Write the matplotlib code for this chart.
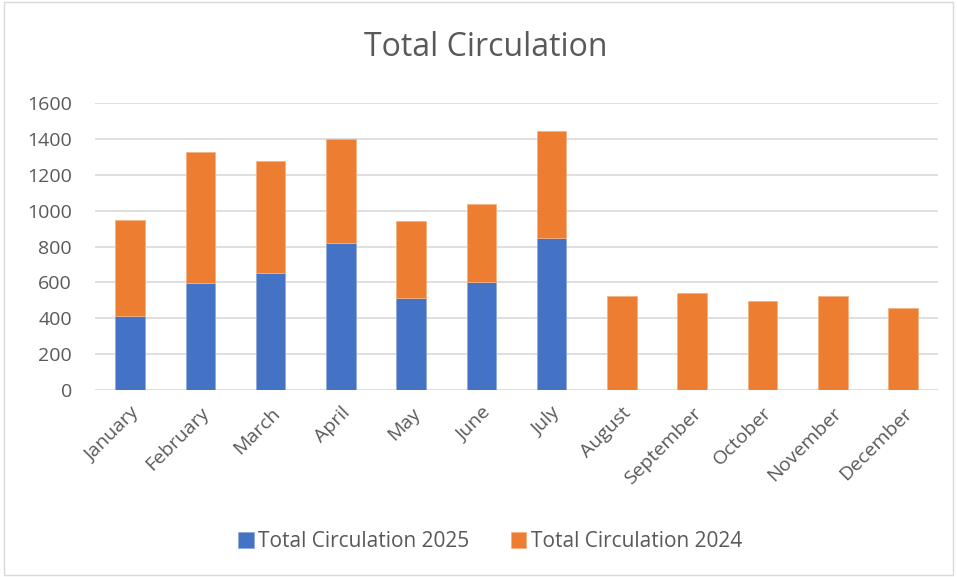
import matplotlib
matplotlib.use("Agg")
import matplotlib.pyplot as plt
from matplotlib.patches import Rectangle

months = ["January", "February", "March", "April", "May", "June", "July",
          "August", "September", "October", "November", "December"]
circ_2025 = [410, 595, 655, 820, 515, 600, 850, 0, 0, 0, 0, 0]
circ_2024 = [540, 730, 620, 580, 430, 435, 595, 525, 540, 495, 525, 460]

BLUE = "#4472C4"
ORANGE = "#ED7D31"
GREY = "#595959"

plt.rcParams["font.family"] = ["Open Sans", "DejaVu Sans"]

fig = plt.figure(figsize=(9.57, 5.77), dpi=100)
ax = fig.add_axes([0.0993, 0.324, 0.881, 0.4975])

x = range(len(months))
ax.bar(x, circ_2025, width=0.42, color=BLUE, edgecolor="#8FAADC", linewidth=0.6,
       label="Total Circulation 2025", zorder=3)
ax.bar(x, circ_2024, width=0.42, bottom=circ_2025, color=ORANGE, edgecolor="#F4B183",
       linewidth=0.6, label="Total Circulation 2024", zorder=3)

ax.set_ylim(0, 1600)
ax.set_xlim(-0.5, len(months) - 0.5)
ax.set_yticks(range(0, 1601, 200))
ax.grid(axis="y", color="#D9D9D9", linewidth=1.2, zorder=0)
for s in ax.spines.values():
    s.set_visible(False)
ax.tick_params(axis="both", length=0, colors=GREY, labelsize=14)
ax.tick_params(axis="y", pad=16.5)
ax.tick_params(axis="x", pad=10)
ax.set_xticks(list(x))
ax.set_xticklabels(months, rotation=45, ha="right", rotation_mode="anchor")

fig.text(0.508, 0.917, "Total Circulation", ha="center", va="center",
         fontsize=23, color=GREY)

ax.legend(loc="center", bbox_to_anchor=(0.512, 0.061), bbox_transform=fig.transFigure,
          ncol=2, frameon=False, fontsize=15, labelcolor=GREY,
          handlelength=0.75, handleheight=0.75, columnspacing=2.0, handletextpad=0.2)

fig.patches.append(Rectangle((0.004, 0.004), 0.992, 0.992, transform=fig.transFigure,
                             fill=False, edgecolor="#D9D9D9", linewidth=1))

fig.savefig("out.png", dpi=100)
